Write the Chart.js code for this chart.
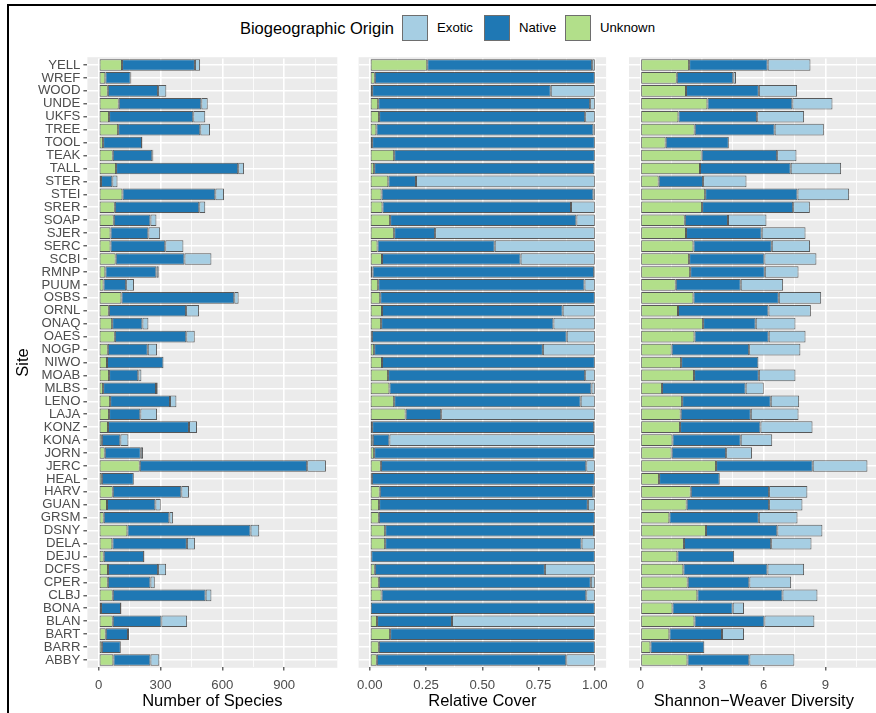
<!DOCTYPE html>
<html>
<head>
<meta charset="utf-8">
<script src="https://cdn.jsdelivr.net/npm/chart.js@4.4.0/dist/chart.umd.min.js"></script>
<style>
  html, body { margin: 0; padding: 0; background: #fff; overflow: hidden; }
  body { width: 876px; height: 713px; position: relative; font-family: 'Liberation Sans', Arial, sans-serif; }
  #frame { position: absolute; left: 7px; top: 4px; width: 920px; height: 760px; border-left: 2px solid #000; border-top: 2px solid #000; }
  canvas { position: absolute; top: 0; }
  .lg-title { position: absolute; top: 15px; line-height: 26px; font-size: 16.5px; color: #000; white-space: nowrap; }
  .lg-key { position: absolute; top: 15px; width: 26px; height: 26px; box-sizing: border-box; border: 1px solid #6e6e6e; }
  .lg-label { position: absolute; top: 15px; line-height: 26px; font-size: 13.2px; color: #000; white-space: nowrap; }
</style>
</head>
<body>
<div id="frame"></div>
<div class="lg-title" style="right:482px">Biogeographic Origin</div>
<div class="lg-key" style="left:402px;background:#A6CEE3"></div><span class="lg-label" style="left:437px">Exotic</span>
<div class="lg-key" style="left:484px;background:#1F78B4"></div><span class="lg-label" style="left:519px">Native</span>
<div class="lg-key" style="left:565px;background:#B2DF8A"></div><span class="lg-label" style="left:600px">Unknown</span>
<canvas id="species" width="340" height="713" style="left:0px"></canvas>
<canvas id="cover" width="270" height="713" style="left:345px"></canvas>
<canvas id="diversity" width="265" height="713" style="left:620px"></canvas>
<script>
const sites = ['YELL', 'WREF', 'WOOD', 'UNDE', 'UKFS', 'TREE', 'TOOL', 'TEAK', 'TALL', 'STER',
  'STEI', 'SRER', 'SOAP', 'SJER', 'SERC', 'SCBI', 'RMNP', 'PUUM', 'OSBS', 'ORNL',
  'ONAQ', 'OAES', 'NOGP', 'NIWO', 'MOAB', 'MLBS', 'LENO', 'LAJA', 'KONZ', 'KONA',
  'JORN', 'JERC', 'HEAL', 'HARV', 'GUAN', 'GRSM', 'DSNY', 'DELA', 'DEJU', 'DCFS',
  'CPER', 'CLBJ', 'BONA', 'BLAN', 'BART', 'BARR', 'ABBY'];

// number of species
const speciesUnknown = [113, 32, 44, 97, 50, 94, 21, 68, 84, 11,
  115, 78, 73, 57, 57, 82, 32, 23, 110, 49,
  65, 78, 44, 40, 50, 21, 55, 50, 45, 15,
  29, 199, 15, 68, 40, 24, 139, 66, 24, 45,
  44, 68, 11, 68, 34, 15, 71];
const speciesNative = [354, 123, 244, 401, 409, 399, 189, 192, 593, 55,
  451, 410, 178, 184, 266, 334, 248, 110, 548, 375,
  147, 347, 194, 274, 142, 257, 291, 152, 393, 90,
  175, 813, 155, 333, 235, 319, 598, 362, 196, 243,
  207, 451, 97, 236, 108, 92, 180];
const speciesExotic = [25, 3, 40, 31, 58, 47, 2, 5, 28, 25,
  42, 29, 29, 57, 88, 131, 11, 38, 21, 63,
  29, 41, 45, 1, 15, 8, 31, 81, 39, 39,
  11, 91, 1, 37, 26, 18, 42, 39, 2, 39,
  21, 28, 2, 125, 5, 1, 43];

// relative cover
const coverUnknown = [0.255, 0.022, 0.010, 0.037, 0.041, 0.029, 0.010, 0.108, 0.019, 0.082,
  0.052, 0.056, 0.090, 0.108, 0.034, 0.054, 0.012, 0.037, 0.046, 0.054,
  0.050, 0.009, 0.019, 0.054, 0.081, 0.087, 0.108, 0.159, 0.010, 0.013,
  0.019, 0.049, 0.009, 0.044, 0.041, 0.040, 0.068, 0.068, 0.006, 0.022,
  0.040, 0.052, 0.004, 0.032, 0.090, 0.040, 0.031];
const coverNative = [0.733, 0.978, 0.794, 0.942, 0.916, 0.965, 0.990, 0.892, 0.979, 0.123,
  0.942, 0.838, 0.828, 0.182, 0.521, 0.616, 0.985, 0.917, 0.954, 0.803,
  0.766, 0.866, 0.750, 0.946, 0.876, 0.898, 0.829, 0.158, 0.987, 0.074,
  0.978, 0.913, 0.991, 0.949, 0.928, 0.960, 0.928, 0.873, 0.994, 0.756,
  0.942, 0.910, 0.996, 0.333, 0.910, 0.960, 0.842];
const coverExotic = [0.012, 0, 0.196, 0.021, 0.043, 0.006, 0, 0, 0.002, 0.795,
  0.006, 0.106, 0.082, 0.710, 0.445, 0.330, 0.003, 0.046, 0, 0.143,
  0.184, 0.125, 0.231, 0, 0.043, 0.015, 0.063, 0.683, 0.003, 0.913,
  0.003, 0.038, 0, 0.007, 0.031, 0, 0.004, 0.059, 0, 0.222,
  0.018, 0.038, 0, 0.635, 0, 0, 0.127];

// shannon-weaver diversity
const diversityUnknown = [2.37, 1.77, 2.22, 3.26, 1.85, 2.64, 1.23, 2.98, 2.90, 0.89,
  3.15, 3.00, 2.16, 2.22, 2.58, 2.37, 2.42, 1.72, 2.58, 1.83,
  3.05, 2.63, 1.52, 1.98, 2.61, 1.05, 2.03, 1.96, 1.93, 1.56,
  1.52, 3.68, 0.91, 2.45, 2.25, 1.41, 3.19, 2.12, 1.80, 2.09,
  2.30, 2.77, 1.56, 2.63, 1.41, 0.49, 2.29];
const diversityNative = [3.82, 2.75, 3.54, 4.13, 3.83, 3.89, 3.07, 3.67, 4.41, 2.16,
  4.49, 4.43, 2.10, 3.68, 3.81, 3.66, 3.63, 3.16, 4.15, 4.40,
  2.56, 3.61, 3.77, 3.76, 3.15, 4.07, 4.31, 3.41, 3.91, 3.32,
  2.65, 4.70, 2.95, 3.81, 4.01, 4.35, 3.47, 4.24, 2.76, 4.09,
  3.00, 4.14, 2.93, 3.40, 2.56, 2.62, 3.01];
const diversityExotic = [2.08, 0.13, 1.86, 1.95, 2.28, 2.39, 0, 0.94, 2.45, 2.11,
  2.51, 0.81, 1.87, 2.13, 1.86, 2.53, 1.64, 2.06, 2.06, 2.06,
  1.93, 1.79, 2.49, 0, 1.78, 0.88, 1.38, 2.32, 2.53, 1.53,
  1.26, 2.66, 0, 1.86, 1.62, 1.88, 2.19, 1.96, 0, 1.78,
  2.03, 1.70, 0.55, 2.43, 1.07, 0, 2.19];

// x axis ticks
const speciesTicks = [0, 300, 600, 900];
const speciesTickLabels = ['0', '300', '600', '900'];
const speciesMinor = [150, 450, 750, 1050];
const coverTicks = [0, 0.25, 0.5, 0.75, 1];
const coverTickLabels = ['0.00', '0.25', '0.50', '0.75', '1.00'];
const coverMinor = [0.125, 0.375, 0.625, 0.875];
const diversityTicks = [0, 3, 6, 9];
const diversityTickLabels = ['0', '3', '6', '9'];
const diversityMinor = [1.5, 4.5, 7.5, 10.5];

const colUnknown = '#B2DF8A';
const colNative = '#1F78B4';
const colExotic = '#A6CEE3';

Chart.defaults.font.family = "'Liberation Sans', Arial, sans-serif";

// grey panel behind the grid, stretched a little like ggplot's discrete expansion
const panelBg = {
  id: 'panelBg',
  beforeDraw(chart) {
    const { ctx, chartArea: a } = chart;
    const ext = (a.bottom - a.top) / sites.length * 0.1;
    ctx.save();
    ctx.fillStyle = '#EBEBEB';
    ctx.fillRect(a.left, a.top - ext, a.right - a.left, a.bottom - a.top + 2 * ext);
    ctx.restore();
  }
};

function makePanel(id, cfg) {
  const majors = cfg.majors;
  const allTicks = majors.concat(cfg.minors).sort((a, b) => a - b);
  const isMajor = (c) => c.tick && majors.includes(c.tick.value);

  const datasets = [
    { label: 'Unknown', data: cfg.unknown, backgroundColor: colUnknown },
    { label: 'Native', data: cfg.native, backgroundColor: colNative },
    { label: 'Exotic', data: cfg.exotic, backgroundColor: colExotic },
  ].map((d) => Object.assign(d, {
    borderColor: 'rgba(25,25,25,0.7)',
    borderWidth: 1,
    borderSkipped: false,
    barPercentage: 0.9,
    categoryPercentage: 1,
  }));

  return new Chart(document.getElementById(id), {
    type: 'bar',
    data: { labels: sites, datasets },
    options: {
      indexAxis: 'y',
      responsive: false,
      animation: false,
      layout: { padding: cfg.padding },
      plugins: {
        legend: { display: false },
        tooltip: { enabled: false },
      },
      scales: {
        x: {
          type: 'linear',
          stacked: true,
          min: cfg.min,
          max: cfg.max,
          afterBuildTicks: (s) => { s.ticks = allTicks.map((v) => ({ value: v })); },
          afterFit: (s) => { s.height = 46.5; },
          grid: {
            color: '#FFFFFF',
            lineWidth: (c) => (isMajor(c) ? 1.6 : 0.8),
            tickColor: (c) => (isMajor(c) ? '#333333' : 'rgba(0,0,0,0)'),
            tickLength: 4,
            tickWidth: 1.1,
          },
          border: { display: false },
          ticks: {
            autoSkip: false,
            maxRotation: 0,
            padding: 7,
            color: '#4D4D4D',
            font: { size: 13.2 },
            callback: (v) => {
              const i = majors.indexOf(v);
              return i >= 0 ? cfg.labels[i] : '';
            },
          },
          title: {
            display: true,
            text: cfg.title,
            color: '#000000',
            font: { size: 16.5 },
            padding: { top: 0, bottom: 2 },
          },
        },
        y: {
          stacked: true,
          afterFit: (s) => { s.width = cfg.yWidth; },
          grid: {
            color: '#FFFFFF',
            lineWidth: 1.6,
            offset: false,
            drawTicks: cfg.showY,
            tickLength: 4,
            tickColor: '#333333',
            tickWidth: 1.1,
          },
          border: { display: false },
          ticks: {
            display: cfg.showY,
            autoSkip: false,
            padding: 3,
            color: '#4D4D4D',
            font: { size: 13.2 },
          },
          title: {
            display: cfg.showY,
            text: 'Site',
            color: '#000000',
            font: { size: 16.5 },
            padding: { top: 14 },
          },
        },
      },
    },
    plugins: [panelBg],
  });
}

makePanel('species', {
  unknown: speciesUnknown, native: speciesNative, exotic: speciesExotic,
  min: -55.15, max: 1158.15,
  majors: speciesTicks, minors: speciesMinor, labels: speciesTickLabels,
  title: 'Number of Species',
  padding: { left: 0, right: 2.7, top: 58.5, bottom: 0 },
  yWidth: 87.4, showY: true,
});

makePanel('cover', {
  unknown: coverUnknown, native: coverNative, exotic: coverExotic,
  min: -0.05, max: 1.05,
  majors: coverTicks, minors: coverMinor, labels: coverTickLabels,
  title: 'Relative Cover',
  padding: { left: 13.6, right: 6.6, top: 58.5, bottom: 0 },
  yWidth: 0, showY: false,
});

makePanel('diversity', {
  unknown: diversityUnknown, native: diversityNative, exotic: diversityExotic,
  min: -0.552, max: 11.592,
  majors: diversityTicks, minors: diversityMinor, labels: diversityTickLabels,
  title: 'Shannon\u2212Weaver Diversity',
  padding: { left: 9, right: 6.2, top: 58.5, bottom: 0 },
  yWidth: 0, showY: false,
});
</script>
</body>
</html>
